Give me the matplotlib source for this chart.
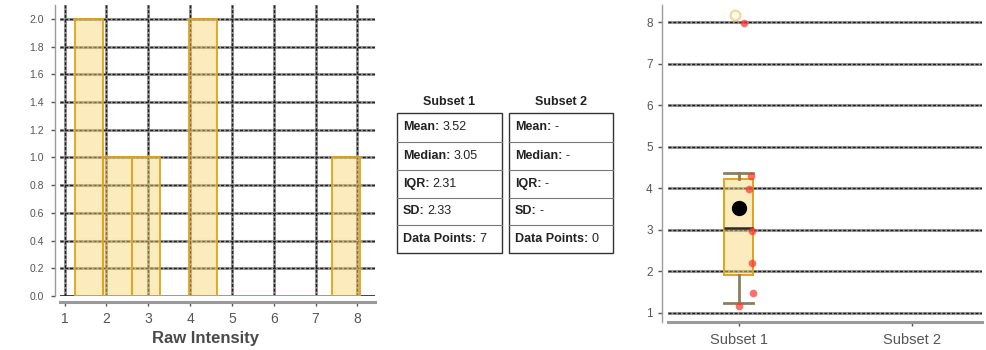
import numpy as np
import matplotlib
matplotlib.use("Agg")
import matplotlib.pyplot as plt
from matplotlib.transforms import ScaledTranslation

plt.rcParams['font.family'] = ['Liberation Sans', 'DejaVu Sans']

# ---- data -------------------------------------------------------------
intensity = [1.24, 1.55, 2.27, 3.05, 4.06, 4.38, 8.07]   # Subset 1 raw intensities
subset2 = []                                            # Subset 2 has no points
point_dx = [0.0, 0.08, 0.075, 0.075, 0.056, 0.07, 0.027]  # horizontal jitter of dots
subsets = ["Subset 1", "Subset 2"]
stat_names = ["Mean", "Median", "IQR", "SD", "Data Points"]
hist_xticks = [1, 2, 3, 4, 5, 6, 7, 8]
hist_yticks = [0.0, 0.2, 0.4, 0.6, 0.8, 1.0, 1.2, 1.4, 1.6, 1.8, 2.0]
box_yticks = [1, 2, 3, 4, 5, 6, 7, 8]

# ---- style ------------------------------------------------------------
W, H = 986, 350
FILL = (0.975, 0.83, 0.42, 0.45)
EDGE = '#e3a21a'
TICK_C = '#555555'
SPINE_C = '#9a9a9a'


def px(x0, y0, x1, y1):
    """Axes rectangle from pixel bounds (top-left origin)."""
    return [x0 / W, 1 - y1 / H, (x1 - x0) / W, (y1 - y0) / H]


def grid_line(ax, v, horizontal=True, solid=False):
    f = ax.axhline if horizontal else ax.axvline
    if solid:
        f(v, color='#222222', lw=1.2, zorder=1.5)
        return
    f(v, color='#a0a0a0', lw=2.2, zorder=1)
    f(v, color='#1e1e1e', lw=1.0, ls=(0, (2.2, 1.2)), zorder=1.1)


fig = plt.figure(figsize=(W / 100, H / 100), dpi=100)

# ---- histogram --------------------------------------------------------
ax1 = fig.add_axes(px(60, 5, 375, 296))
ax1.set_xlim(0.892, 8.42)
ax1.set_ylim(0, 2.10)
for x in hist_xticks:
    grid_line(ax1, x, horizontal=False)
for y in hist_yticks:
    grid_line(ax1, y, horizontal=True, solid=(y == 0))
ax1.hist(intensity, bins=10, facecolor=FILL, edgecolor=EDGE, linewidth=1.3, zorder=3)
ax1.set_xticks(hist_xticks)
ax1.set_yticks(hist_yticks)
ax1.set_yticklabels([f"{v:.1f}" for v in hist_yticks])
for s in ['top', 'right']:
    ax1.spines[s].set_visible(False)
ax1.spines['left'].set_position(('outward', 3.6))
ax1.spines['left'].set_color(SPINE_C)
ax1.spines['left'].set_linewidth(1.0)
ax1.spines['bottom'].set_position(('outward', 4.3))
ax1.spines['bottom'].set_color(SPINE_C)
ax1.spines['bottom'].set_linewidth(2.2)
ax1.tick_params(axis='y', colors=TICK_C, labelsize=7.5, length=3, width=1, pad=5)
ax1.tick_params(axis='x', colors=TICK_C, labelsize=10, length=3, width=1, pad=4)
ax1.set_xlabel("Raw Intensity", fontsize=12, fontweight='bold', color='#4a4a4a')
ax1.xaxis.set_label_coords(0.463, -0.12)

# ---- summary tables ---------------------------------------------------
axt = fig.add_axes([0, 0, 1, 1], zorder=-1)
axt.set_xlim(0, W)
axt.set_ylim(H, 0)
axt.axis('off')


def stat_values(vals):
    if len(vals) == 0:
        return ["-", "-", "-", "-", "0"]
    a = np.asarray(vals)
    q1, q3 = np.percentile(a, [25, 75])
    return [f"{a.mean():.2f}", f"{np.median(a):.2f}", f"{q3 - q1:.2f}",
            f"{a.std(ddof=1):.2f}", f"{len(a)}"]


table_x = [(397, 502), (509, 613)]
row_edges = [113, 141.7, 170, 197.7, 225.3, 253]
for (xl, xr), name, vals in zip(table_x, subsets, [intensity, subset2]):
    axt.text((xl + xr) / 2, 101.7, name, ha='center', va='center',
             fontsize=9, fontweight='bold', color='#222222')
    axt.add_patch(plt.Rectangle((xl, row_edges[0]), xr - xl,
                                row_edges[-1] - row_edges[0], fill=False,
                                edgecolor='#333333', lw=1.0))
    for yy in row_edges[1:-1]:
        axt.plot([xl, xr], [yy, yy], color='#777777', lw=0.8)
    for i, (lab, v) in enumerate(zip(stat_names, stat_values(vals))):
        yc = (row_edges[i] + row_edges[i + 1]) / 2
        t = axt.text(xl + 6, yc, lab + ":", ha='left', va='center',
                     fontsize=9, fontweight='bold', color='#222222')
        axt.annotate(v, xy=(1, 0.5), xycoords=t, xytext=(2.2, 0),
                     textcoords='offset points', ha='left', va='center',
                     fontsize=9, color='#222222')

# ---- box plot ---------------------------------------------------------
ax2 = fig.add_axes(px(668, 5, 982, 322))
ax2.set_xlim(-0.41, 1.405)
ax2.set_ylim(0.78, 8.42)
for y in box_yticks:
    grid_line(ax2, y, horizontal=True)

bw = 0.168
bp = ax2.boxplot([intensity], positions=[0], widths=bw, showmeans=True,
                 patch_artist=True, capwidths=bw, zorder=3,
                 boxprops=dict(facecolor=FILL, edgecolor=EDGE, linewidth=1.4),
                 whiskerprops=dict(color='#8c7e58', linewidth=2),
                 capprops=dict(color='#8c7e58', linewidth=2),
                 medianprops=dict(color='#2a2a2a', linewidth=1.8),
                 meanprops=dict(marker='o', markerfacecolor='black',
                                markeredgecolor='black', markersize=10),
                 flierprops=dict(marker='o', markerfacecolor='none',
                                 markeredgecolor='#f8d48e', markersize=7,
                                 markeredgewidth=1.5))
for fl in bp['fliers']:
    fl.set_transform(fl.get_transform() +
                     ScaledTranslation(-4 / 100, 5 / 100, fig.dpi_scale_trans))

jit = ax2.transData + ScaledTranslation(0, -3 / 100, fig.dpi_scale_trans)
ax2.plot(point_dx, intensity, 'o', color='#ff3535', alpha=0.72, markersize=5.5,
         markeredgewidth=0, transform=jit, zorder=4)

ax2.set_xticks([0, 1])
ax2.set_xticklabels(subsets)
ax2.set_yticks(box_yticks)
for s in ['top', 'right']:
    ax2.spines[s].set_visible(False)
ax2.spines['left'].set_position(('outward', 4.0))
ax2.spines['left'].set_color(SPINE_C)
ax2.spines['left'].set_linewidth(1.0)
ax2.spines['bottom'].set_color(SPINE_C)
ax2.spines['bottom'].set_linewidth(2.2)
ax2.tick_params(axis='y', colors=TICK_C, labelsize=8.5, length=3, width=1, pad=4)
ax2.tick_params(axis='x', colors=TICK_C, labelsize=10.5, length=3, width=1, pad=5)

fig.savefig("out.png", dpi=100)
